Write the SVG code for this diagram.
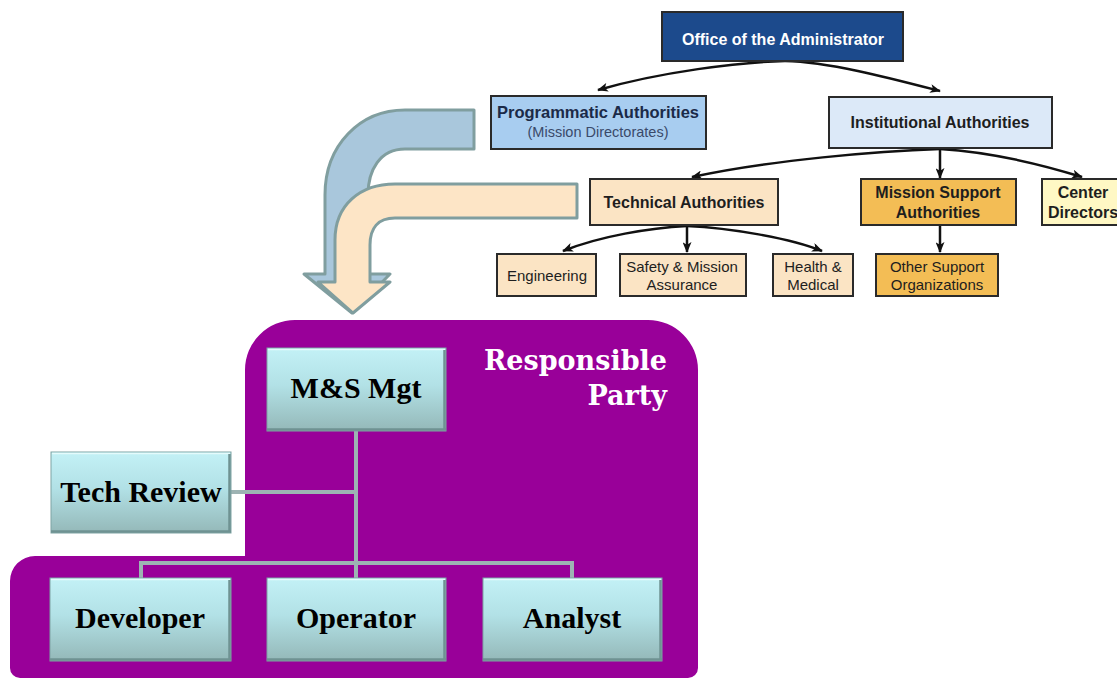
<svg xmlns="http://www.w3.org/2000/svg" width="1117" height="678" viewBox="0 0 1117 678">
<defs>
<linearGradient id="cy" x1="0" y1="0" x2="0" y2="1">
<stop offset="0" stop-color="#c3f1f6"/>
<stop offset="0.45" stop-color="#b2e1e6"/>
<stop offset="1" stop-color="#94b8b8"/>
</linearGradient>
<marker id="ah" viewBox="0 0 12 10" refX="11" refY="5" markerWidth="12" markerHeight="9" orient="auto" markerUnits="userSpaceOnUse">
<path d="M0,0 L12,5 L0,10 L3,5 Z" fill="#111"/>
</marker>
<style>
.ob{stroke:#2a2a2a;stroke-width:2}
.t{font-family:"Liberation Sans",Arial,sans-serif;text-anchor:middle;fill:#1e1e1e}
.tb{font-weight:bold}
.bx{fill:url(#cy);stroke:#7fa3a3;stroke-width:1}
.bv{fill:none;stroke:#6f9292;stroke-width:2.5}
.bh{fill:none;stroke:#e4fbfc;stroke-width:1.5}
.bl{font-family:"Liberation Serif","Times New Roman",serif;font-weight:bold;font-size:30px;text-anchor:middle;fill:#000}
.arr{fill:none;stroke:#111;stroke-width:2.5;marker-end:url(#ah)}
.cn{fill:none;stroke:#9db3b3;stroke-width:4}
.ba{stroke:#809e9f;stroke-width:3;stroke-linejoin:round}
</style>
</defs>

<!-- Responsible party background -->
<path id="responsible-bg" d="M295,320 H648 A50,50 0 0 1 698,370 V668 A10,10 0 0 1 688,678 H20 A10,10 0 0 1 10,668 V581 A25,25 0 0 1 35,556 H245 V370 A50,50 0 0 1 295,320 Z" fill="#990099"/>
<g id="responsible-label" font-family="'DejaVu Serif',serif" font-weight="bold" font-size="27" fill="#fff" text-anchor="end">
<text x="667" y="370">Responsible</text>
<text x="667" y="405">Party</text>
</g>

<!-- Block arrows -->
<g id="block-arrows">
<path class="ba" fill="#a9c7dc" d="M474,110 H405 C360,110 325,145 325,195 V274 H304 L352,313 L390,274 H368 V195 C368,170 380,149 405,149 H474 Z"/>
<path class="ba" fill="#fde5c6" d="M577,184 H395 C360,184 335,205 335,240 V282 H318 L353,313 L390,282 H370 V245 C370,228 378,218 395,218 H577 Z"/>
</g>

<!-- Top chart connectors -->
<g id="top-connectors">
<path class="arr" d="M785,61 C740,62 660,72 598,90"/>
<path class="arr" d="M785,61 C830,62 890,78 940,91"/>
<path class="arr" d="M940,149 C880,151 770,160 692,177"/>
<path class="arr" d="M940,149 V178"/>
<path class="arr" d="M940,149 C990,152 1040,164 1082,177"/>
<path class="arr" d="M687,226 C650,228 600,236 563,251"/>
<path class="arr" d="M687,226 V252"/>
<path class="arr" d="M687,226 C730,228 790,238 822,251"/>
<path class="arr" d="M940,226 V252"/>
</g>

<g id="office">
<rect x="662" y="12" width="241" height="49" fill="#1c4a8c" class="ob"/>
<text class="t tb" x="783" y="45" font-size="16" style="fill:#fff">Office of the Administrator</text>
</g>
<g id="programmatic">
<rect x="491" y="96" width="215" height="53" fill="#a8cdf0" class="ob"/>
<text class="t tb" x="598" y="118" font-size="16.5" style="fill:#1b2a48">Programmatic Authorities</text>
<text class="t" x="598" y="137" font-size="14.5" style="fill:#3a4a6a">(Mission Directorates)</text>
</g>
<g id="institutional">
<rect x="829" y="97" width="223" height="51" fill="#dce9f8" class="ob"/>
<text class="t tb" x="940" y="128" font-size="16">Institutional Authorities</text>
</g>
<g id="technical">
<rect x="590" y="179" width="188" height="46" fill="#fbe4c4" class="ob"/>
<text class="t tb" x="684" y="208" font-size="16">Technical Authorities</text>
</g>
<g id="mission-support">
<rect x="861" y="179" width="155" height="46" fill="#f3bd55" class="ob"/>
<text class="t tb" x="938" y="198" font-size="16">Mission Support</text>
<text class="t tb" x="938" y="218" font-size="16">Authorities</text>
</g>
<g id="center-directors">
<rect x="1042" y="179" width="90" height="46" fill="#fff8c4" class="ob"/>
<text class="t tb" x="1083" y="198" font-size="16">Center</text>
<text class="t tb" x="1083" y="218" font-size="16">Directors</text>
</g>
<g id="engineering">
<rect x="497" y="254" width="99" height="42" fill="#fbe4c4" class="ob"/>
<text class="t" x="547" y="281" font-size="15">Engineering</text>
</g>
<g id="safety">
<rect x="620" y="254" width="126" height="42" fill="#fbe4c4" class="ob"/>
<text class="t" x="682" y="272" font-size="15">Safety &amp; Mission</text>
<text class="t" x="682" y="290" font-size="15">Assurance</text>
</g>
<g id="health">
<rect x="773" y="254" width="80" height="42" fill="#fbe4c4" class="ob"/>
<text class="t" x="813" y="272" font-size="15">Health &amp;</text>
<text class="t" x="813" y="290" font-size="15">Medical</text>
</g>
<g id="other-support">
<rect x="876" y="254" width="122" height="42" fill="#f3bd55" class="ob"/>
<text class="t" x="937" y="272" font-size="15">Other Support</text>
<text class="t" x="937" y="290" font-size="15">Organizations</text>
</g>

<!-- Bottom connectors -->
<g id="bottom-connectors">
<path class="cn" d="M356,431 V578"/>
<path class="cn" d="M231,492 H356"/>
<path class="cn" d="M141,578 V563 H572 V578"/>
</g>

<g id="ms-mgt">
<rect class="bx" x="267" y="348" width="179" height="83"/>
<path class="bh" d="M268,349.5 H445"/>
<path class="bv" d="M267,429.5 H446 M444.5,350 V430"/>
<text class="bl" x="356" y="398">M&amp;S Mgt</text>
</g>
<g id="tech-review">
<rect class="bx" x="51" y="452" width="180" height="81"/>
<path class="bh" d="M52,453.5 H230"/>
<path class="bv" d="M51,531.5 H231 M229.5,454 V532"/>
<text class="bl" x="141" y="502">Tech Review</text>
</g>
<g id="developer">
<rect class="bx" x="50" y="578" width="181" height="83"/>
<path class="bh" d="M51,579.5 H230"/>
<path class="bv" d="M50,659.5 H231 M229.5,580 V660"/>
<text class="bl" x="140" y="628">Developer</text>
</g>
<g id="operator">
<rect class="bx" x="267" y="578" width="179" height="83"/>
<path class="bh" d="M268,579.5 H445"/>
<path class="bv" d="M267,659.5 H446 M444.5,580 V660"/>
<text class="bl" x="356" y="628">Operator</text>
</g>
<g id="analyst">
<rect class="bx" x="483" y="578" width="179" height="83"/>
<path class="bh" d="M484,579.5 H661"/>
<path class="bv" d="M483,659.5 H662 M660.5,580 V660"/>
<text class="bl" x="572" y="628">Analyst</text>
</g>
</svg>
